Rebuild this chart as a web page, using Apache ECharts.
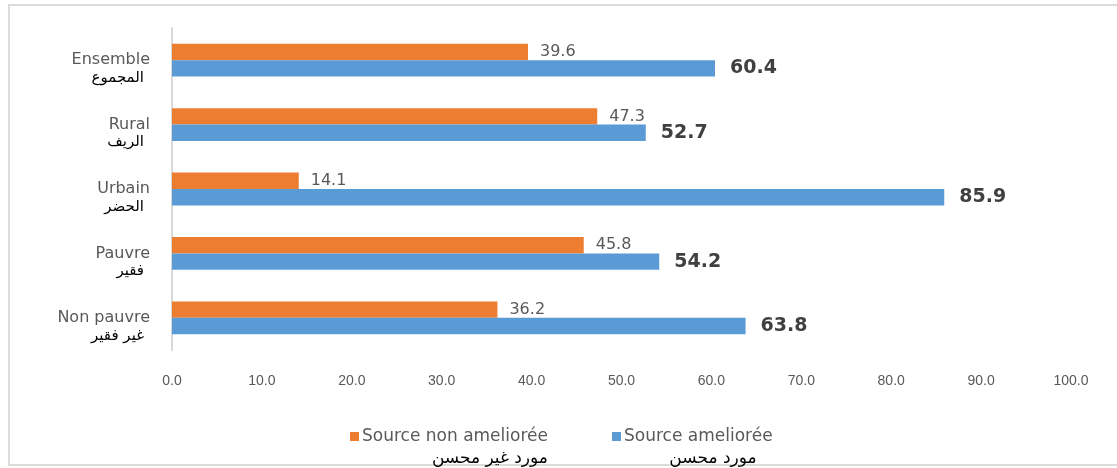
<!DOCTYPE html>
<html>
<head>
<meta charset="utf-8">
<style>html,body{margin:0;padding:0;background:#fff;}#c{width:1117px;height:468px;}</style>
<script src="https://cdn.jsdelivr.net/npm/echarts@6/dist/echarts.min.js"></script>
</head>
<body>
<div id="c"></div>
<script>
var categoriesFr = ['Ensemble', 'Rural', 'Urbain', 'Pauvre', 'Non pauvre'];
var categoriesAr = ['المجموع', 'الريف', 'الحضر', 'فقير', 'غير فقير'];
var nonImproved = [39.6, 47.3, 14.1, 45.8, 36.2];
var improved = [60.4, 52.7, 85.9, 54.2, 63.8];
var seriesNamesFr = ['Source non ameliorée', 'Source ameliorée'];
var seriesNamesAr = ['مورد غير محسن', 'مورد محسن'];
var xTicks = [0, 10, 20, 30, 40, 50, 60, 70, 80, 90, 100];

var colors = ['#ED7D31', '#5B9BD5'];
var cats = categoriesFr.map(function (f, i) { return f + '\n' + categoriesAr[i]; });
var names = seriesNamesFr.map(function (f, i) { return f + '\n' + seriesNamesAr[i]; });

function legendFor(i, left, arPad) {
  return {
    top: 428, left: left, padding: 0,
    itemWidth: 0, itemHeight: 9, icon: 'none',
    data: [names[i]],
    formatter: function (n) {
      var p = n.split('\n');
      return '{sq| }{en|' + p[0] + '}\n{ar|' + p[1] + '}';
    },
    textStyle: {
      rich: {
        sq: { width: 9, height: 9, backgroundColor: colors[i], fontSize: 9, lineHeight: 20 },
        en: { color: '#595959', fontSize: 17, fontFamily: 'DejaVu Sans', lineHeight: 20, align: 'left', padding: [0, 0, 0, 3] },
        ar: { color: '#000', fontSize: 17, fontFamily: 'DejaVu Sans', lineHeight: 25, align: 'right', padding: [0, arPad, 0, 0] }
      }
    }
  };
}

var chart = echarts.init(document.getElementById('c'));
chart.setOption({
  animation: false,
  backgroundColor: '#fff',
  graphic: [{
    type: 'rect', silent: true,
    shape: { x: 9, y: 5, width: 1130, height: 460 },
    style: { fill: 'none', stroke: '#dcdcdc', lineWidth: 2 }
  }],
  grid: { left: 172, right: 46, top: 28, bottom: 118, containLabel: false },
  xAxis: {
    type: 'value', min: 0, max: 100, interval: 10,
    axisLine: { show: false }, axisTick: { show: false },
    splitLine: { show: false },
    axisLabel: {
      margin: 24, color: '#595959', fontSize: 14, fontFamily: 'Liberation Sans',
      formatter: function (v) { return xTicks.indexOf(v) >= 0 ? v.toFixed(1) : ''; }
    }
  },
  yAxis: {
    type: 'category', inverse: true, data: cats,
    axisLine: { show: true, lineStyle: { color: '#d9d9d9', width: 2 } },
    axisTick: { show: false },
    axisLabel: {
      margin: 22, padding: [20, 0, 0, 0],
      formatter: function (v) {
        var p = v.split('\n');
        return '{en|' + p[0] + '}\n{ar|' + p[1] + '}';
      },
      rich: {
        en: { color: '#595959', fontSize: 16, fontFamily: 'DejaVu Sans', lineHeight: 16, align: 'right' },
        ar: { color: '#000', fontSize: 15, fontFamily: 'DejaVu Sans', lineHeight: 20, align: 'right', padding: [0, 6, 0, 0] }
      }
    }
  },
  legend: [legendFor(0, 345, 0), legendFor(1, 607, 16)],
  series: [
    {
      name: names[0], type: 'bar', data: nonImproved,
      barGap: '0%', barCategoryGap: '49%',
      itemStyle: { color: colors[0] },
      label: { show: true, position: 'right', distance: 12, color: '#595959', fontSize: 16, fontFamily: 'DejaVu Sans',
        formatter: function (p) { return p.value.toFixed(1); } }
    },
    {
      name: names[1], type: 'bar', data: improved,
      barGap: '0%', barCategoryGap: '49%',
      itemStyle: { color: colors[1] },
      label: { show: true, position: 'right', distance: 15, color: '#404040', fontSize: 19, fontWeight: 'bold', fontFamily: 'DejaVu Sans',
        formatter: function (p) { return p.value.toFixed(1); } }
    }
  ]
});
</script>
</body>
</html>
